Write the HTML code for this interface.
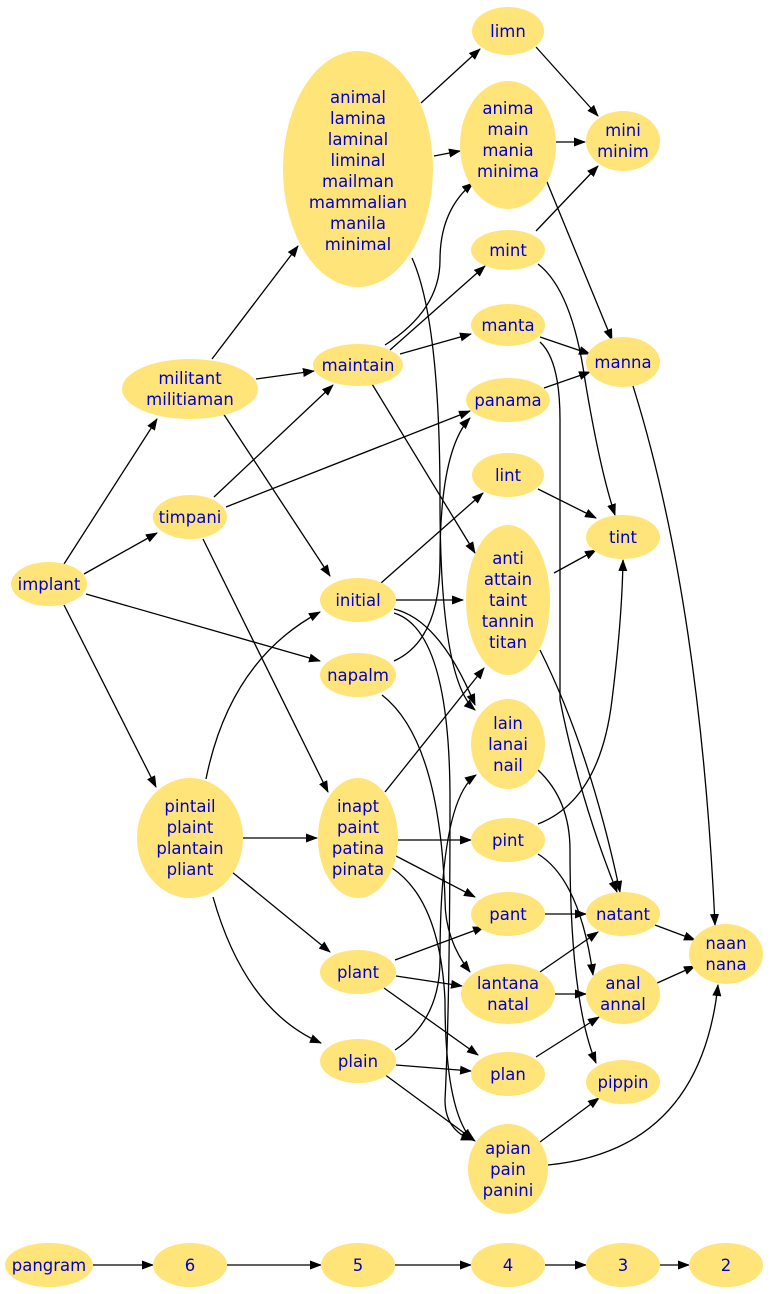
<!DOCTYPE html>
<html><head><meta charset="utf-8"><style>body{margin:0;background:#fff}svg{display:block}text{font-family:"DejaVu Sans","Liberation Sans",sans-serif;font-size:16.5px;fill:#0000cc;text-anchor:middle}</style></head><body>
<svg width="770" height="1294" viewBox="0 0 770 1294" xmlns="http://www.w3.org/2000/svg">
<defs><marker id="a" markerWidth="12" markerHeight="9" refX="11" refY="4.5" orient="auto" markerUnits="userSpaceOnUse" viewBox="0 0 12 9"><path d="M0,0L12,4.5L0,9z" fill="#000"/></marker></defs>
<g stroke="#000" stroke-width="1.3" fill="none" marker-end="url(#a)">
<path d="M64,564L157,419"/>
<path d="M84,574L157,533"/>
<path d="M86,594L320,661"/>
<path d="M64,605L156,787"/>
<path d="M212,359L298,246"/>
<path d="M256,379L314,371"/>
<path d="M215,401L330,576"/>
<path d="M421,103L480,49"/>
<path d="M434,156L460,151"/>
<path d="M412,258Q440,320 440,500Q440,680 475,710"/>
<path d="M536,47L598,116"/>
<path d="M556,142L585,142"/>
<path d="M540,165L612,340"/>
<path d="M536,231L598,166"/>
<path d="M538,264Q572,290 585,380Q600,470 615,515"/>
<path d="M214,497L333,385"/>
<path d="M226,507L470,411"/>
<path d="M203,539L328,792"/>
<path d="M390,350L485,266"/>
<path d="M400,354L471,334"/>
<path d="M385,345Q440,310 440,260Q440,210 473,183"/>
<path d="M372,384L475,553"/>
<path d="M540,337L590,354"/>
<path d="M540,342Q560,360 560,420L560,700Q580,800 617,892"/>
<path d="M544,388L590,372"/>
<path d="M538,489L596,518"/>
<path d="M381,583L483,493"/>
<path d="M396,600L463,600"/>
<path d="M394,609Q440,620 475,705"/>
<path d="M394,613Q450,630 450,800Q450,1000 445,1100Q445,1130 472,1140"/>
<path d="M394,661Q440,640 440,560Q440,450 470,418"/>
<path d="M382,695Q440,740 445,900Q445,940 470,972"/>
<path d="M554,573L596,550"/>
<path d="M540,650Q590,750 620,892"/>
<path d="M538,770Q570,800 570,850Q570,1000 596,1063"/>
<path d="M206,779Q230,660 320,612"/>
<path d="M243,838L317,838"/>
<path d="M232,872L330,952"/>
<path d="M213,897Q245,1010 321,1043"/>
<path d="M385,792L484,668"/>
<path d="M398,840L471,840"/>
<path d="M396,856L475,897"/>
<path d="M392,868Q440,900 445,1000Q445,1110 472,1140"/>
<path d="M538,824Q600,800 612,700Q622,620 623,560"/>
<path d="M538,854Q580,880 593,975"/>
<path d="M545,914L586,914"/>
<path d="M655,925L695,940"/>
<path d="M633,386Q700,600 715,925"/>
<path d="M395,960L484,927"/>
<path d="M396,976L462,986"/>
<path d="M384,988L478,1055"/>
<path d="M395,1050Q440,1020 440,960Q440,800 476,775"/>
<path d="M396,1065L471,1071"/>
<path d="M384,1074L475,1141"/>
<path d="M540,972L598,932"/>
<path d="M555,994L586,994"/>
<path d="M536,1057L599,1017"/>
<path d="M655,984L695,966"/>
<path d="M540,1142L599,1098"/>
<path d="M548,1165Q700,1150 718,985"/>
<path d="M93,1265L153,1265"/>
<path d="M227,1265L321,1265"/>
<path d="M395,1265L471,1265"/>
<path d="M545,1265L586,1265"/>
<path d="M660,1265L689,1265"/>
</g>
<g fill="#ffe47a">
<ellipse cx="508" cy="31" rx="36" ry="24"/>
<ellipse cx="358" cy="169" rx="75" ry="118"/>
<ellipse cx="508" cy="145" rx="48" ry="64"/>
<ellipse cx="623" cy="141" rx="37" ry="30"/>
<ellipse cx="508" cy="250" rx="37" ry="20"/>
<ellipse cx="508" cy="325" rx="37" ry="21"/>
<ellipse cx="623" cy="362" rx="37" ry="25"/>
<ellipse cx="190" cy="389" rx="68" ry="30"/>
<ellipse cx="358" cy="365" rx="45" ry="21"/>
<ellipse cx="508" cy="400" rx="42" ry="22"/>
<ellipse cx="508" cy="475" rx="36" ry="22"/>
<ellipse cx="623" cy="537" rx="37" ry="22"/>
<ellipse cx="190" cy="517" rx="37" ry="22"/>
<ellipse cx="49" cy="584" rx="38" ry="22"/>
<ellipse cx="358" cy="600" rx="38" ry="22"/>
<ellipse cx="508" cy="600" rx="42" ry="75"/>
<ellipse cx="358" cy="675" rx="38" ry="22"/>
<ellipse cx="508" cy="744" rx="37" ry="45"/>
<ellipse cx="190" cy="838" rx="53" ry="60"/>
<ellipse cx="358" cy="838" rx="40" ry="60"/>
<ellipse cx="508" cy="840" rx="37" ry="22"/>
<ellipse cx="508" cy="914" rx="37" ry="22"/>
<ellipse cx="623" cy="914" rx="37" ry="22"/>
<ellipse cx="726" cy="954" rx="37" ry="30"/>
<ellipse cx="358" cy="972" rx="38" ry="22"/>
<ellipse cx="508" cy="994" rx="47" ry="30"/>
<ellipse cx="623" cy="994" rx="37" ry="30"/>
<ellipse cx="358" cy="1061" rx="38" ry="22"/>
<ellipse cx="508" cy="1074" rx="37" ry="22"/>
<ellipse cx="623" cy="1082" rx="37" ry="22"/>
<ellipse cx="508" cy="1169" rx="40" ry="45"/>
<ellipse cx="49" cy="1265" rx="44" ry="22"/>
<ellipse cx="190" cy="1265" rx="37" ry="22"/>
<ellipse cx="358" cy="1265" rx="37" ry="22"/>
<ellipse cx="508" cy="1265" rx="37" ry="22"/>
<ellipse cx="623" cy="1265" rx="37" ry="22"/>
<ellipse cx="726" cy="1265" rx="37" ry="22"/>
</g>
<g>
<text x="508" y="37">limn</text>
<text x="358" y="103">animal</text><text x="358" y="124">lamina</text><text x="358" y="145">laminal</text><text x="358" y="166">liminal</text><text x="358" y="187">mailman</text><text x="358" y="208">mammalian</text><text x="358" y="229">manila</text><text x="358" y="250">minimal</text>
<text x="508" y="114">anima</text><text x="508" y="135">main</text><text x="508" y="156">mania</text><text x="508" y="177">minima</text>
<text x="623" y="136">mini</text><text x="623" y="157">minim</text>
<text x="508" y="256">mint</text>
<text x="508" y="331">manta</text>
<text x="623" y="368">manna</text>
<text x="190" y="384">militant</text><text x="190" y="405">militiaman</text>
<text x="358" y="371">maintain</text>
<text x="508" y="406">panama</text>
<text x="508" y="481">lint</text>
<text x="623" y="543">tint</text>
<text x="190" y="523">timpani</text>
<text x="49" y="590">implant</text>
<text x="358" y="606">initial</text>
<text x="508" y="564">anti</text><text x="508" y="585">attain</text><text x="508" y="606">taint</text><text x="508" y="627">tannin</text><text x="508" y="648">titan</text>
<text x="358" y="681">napalm</text>
<text x="508" y="729">lain</text><text x="508" y="750">lanai</text><text x="508" y="771">nail</text>
<text x="190" y="812">pintail</text><text x="190" y="833">plaint</text><text x="190" y="854">plantain</text><text x="190" y="875">pliant</text>
<text x="358" y="812">inapt</text><text x="358" y="833">paint</text><text x="358" y="854">patina</text><text x="358" y="875">pinata</text>
<text x="508" y="846">pint</text>
<text x="508" y="920">pant</text>
<text x="623" y="920">natant</text>
<text x="726" y="949">naan</text><text x="726" y="970">nana</text>
<text x="358" y="978">plant</text>
<text x="508" y="989">lantana</text><text x="508" y="1010">natal</text>
<text x="623" y="989">anal</text><text x="623" y="1010">annal</text>
<text x="358" y="1067">plain</text>
<text x="508" y="1080">plan</text>
<text x="623" y="1088">pippin</text>
<text x="508" y="1154">apian</text><text x="508" y="1175">pain</text><text x="508" y="1196">panini</text>
<text x="49" y="1271">pangram</text>
<text x="190" y="1271">6</text><text x="358" y="1271">5</text><text x="508" y="1271">4</text><text x="623" y="1271">3</text><text x="726" y="1271">2</text>
</g>
</svg>
</body></html>
